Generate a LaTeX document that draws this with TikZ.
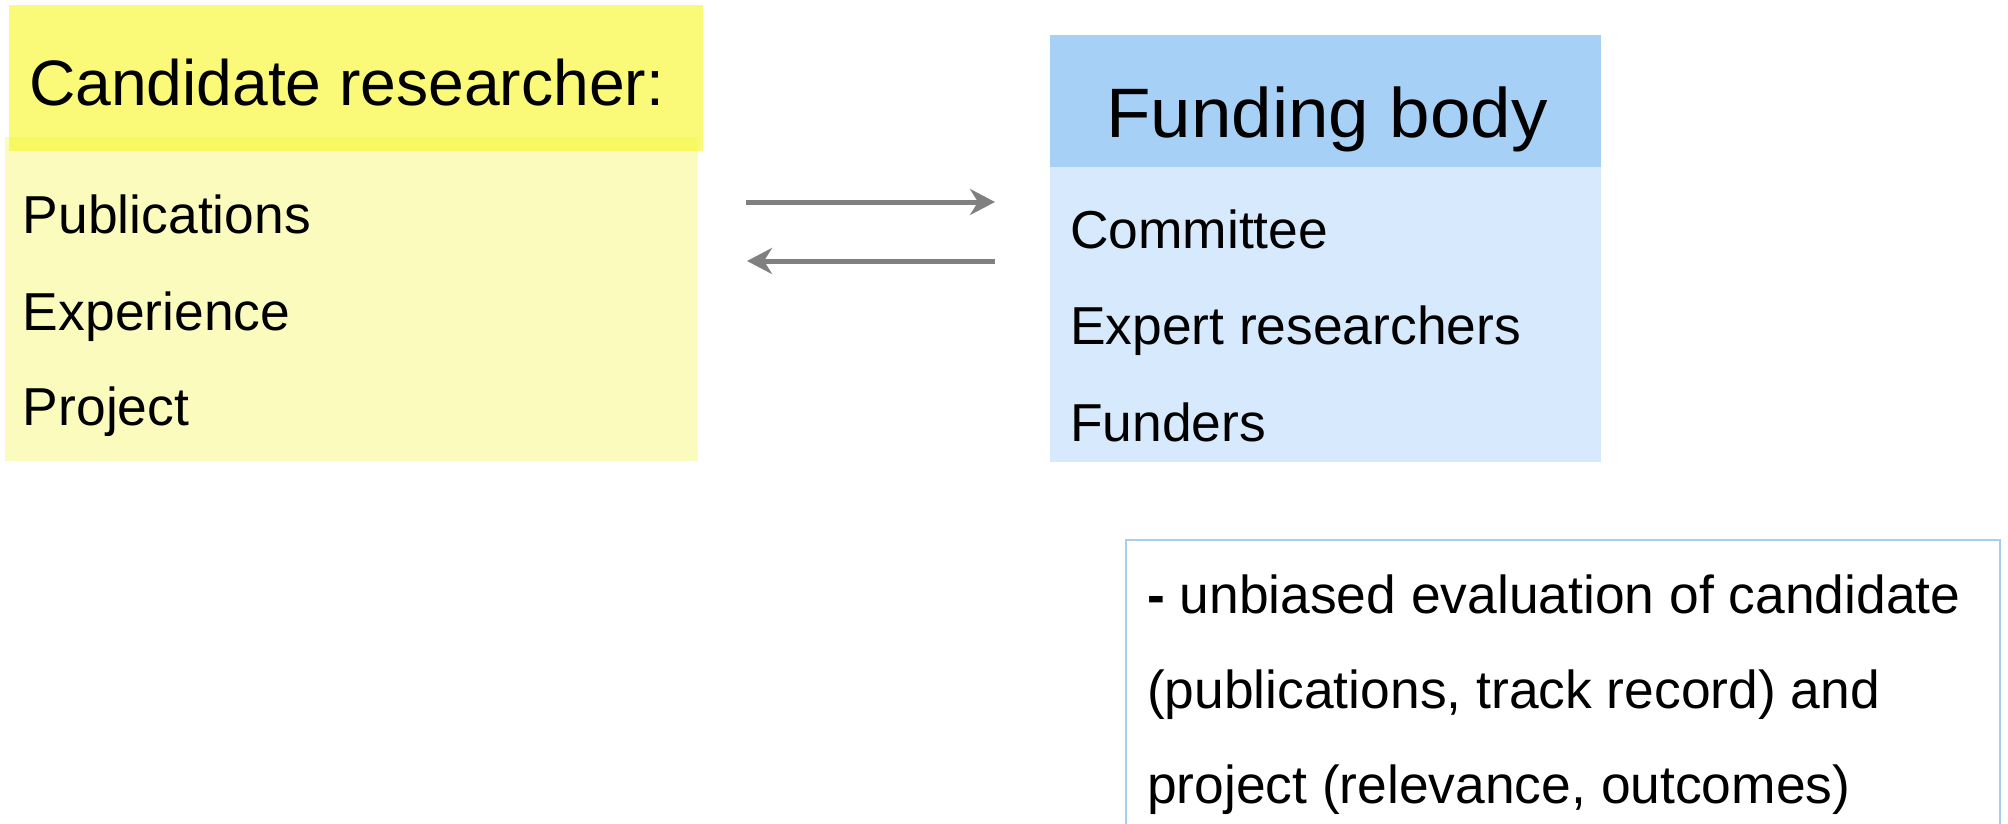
\documentclass[tikz,border=0pt]{standalone}
\usepackage{fontspec}
\setmainfont{Liberation Sans}
\usetikzlibrary{arrows.meta}
\definecolor{ylhead}{HTML}{FAFA78}
\definecolor{ylband}{HTML}{F8F862}
\definecolor{ylbody}{HTML}{FBFBBE}
\definecolor{blhead}{HTML}{A6D0F5}
\definecolor{blbody}{HTML}{D6E9FD}
\definecolor{blbord}{HTML}{A8CDF0}
\definecolor{arrowgray}{HTML}{808080}
\begin{document}
\begin{tikzpicture}[x=0.5pt,y=-0.5pt,
  box/.style={inner sep=0pt,outer sep=0pt,anchor=north west,draw=none,rectangle},
  txt/.style={anchor=base west,inner sep=0pt,outer sep=0pt,font=\fontsize{26.7pt}{30pt}\selectfont},
  bigtxt/.style={inner sep=0pt,outer sep=0pt,font=\fontsize{32.1pt}{36pt}\selectfont},
  conn/.style={draw=arrowgray,line width=2.5pt,-{Stealth[length=12.5pt,width=13pt,inset=4pt]}}]
\useasboundingbox (0,0) rectangle (2008,824);
% candidate researcher
\node[box,fill=ylbody,minimum width=346.5pt,minimum height=162pt] (candbody) at (5,137) {};
\node[box,fill=ylhead,minimum width=347pt,minimum height=73pt] (candhead) at (9,5) {};
\fill[ylband] (9,137) rectangle (698,151);
\node[bigtxt,anchor=base west] (candtitle) at (29,106) {Candidate researcher:};
\node[txt] (pub) at (23,233) {Publications};
\node[txt] (exp) at (23,330) {Experience};
\node[txt] (proj) at (23,425) {Project};
% funding body
\node[box,fill=blhead,minimum width=275.5pt,minimum height=66pt] (fundhead) at (1050,35) {};
\node[box,fill=blbody,minimum width=275.5pt,minimum height=147.5pt] (fundbody) at (1050,167) {};
\node[inner sep=0pt,outer sep=0pt,anchor=base,font=\fontsize{35pt}{40pt}\selectfont] (fundtitle) at (1327,138) {\scalebox{1.04}[1]{Funding body}};
\node[txt] (comm) at (1070,248) {Committee};
\node[txt] (expert) at (1070,344) {Expert researchers};
\node[txt] (funders) at (1070,441) {Funders};
% arrows
\coordinate (a1s) at (746,202);
\coordinate (a1e) at (995,202);
\coordinate (a2s) at (995,261);
\coordinate (a2e) at (747,261);
\draw[conn] (a1s) -- (a1e);
\draw[conn] (a2s) -- (a2e);
% evaluation box
\node[box,draw=blbord,line width=1pt,minimum width=437pt,minimum height=150pt] (evalbox) at (1126,540) {};
\node[txt] (ev1) at (1147,613) {{\bfseries -} unbiased evaluation of candidate};
\node[txt] (ev2) at (1147,708) {(publications, track record) and};
\node[txt] (ev3) at (1147,803) {project (relevance, outcomes)};
\end{tikzpicture}
\end{document}
